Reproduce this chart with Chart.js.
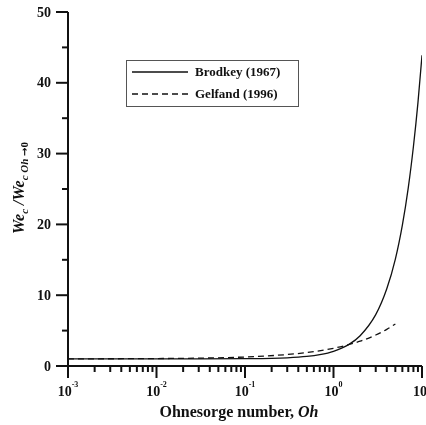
<!DOCTYPE html>
<html><head><meta charset="utf-8">
<script src="https://cdn.jsdelivr.net/npm/chart.js@4/dist/chart.umd.min.js"></script>
<style>html,body{margin:0;padding:0;background:#fff}#wrap{width:426px;height:425px}</style>
</head><body><div id="wrap"><canvas id="c" width="426" height="425"></canvas></div>
<script>
const brodkeyOh = [0.001, 0.01, 0.03, 0.1, 0.2, 0.3, 0.5, 0.7, 1, 1.5, 2, 3, 4, 5, 6, 7, 8, 9, 10];
const brodkeyWe = [1.0, 1.0, 1.0, 1.03, 1.08, 1.16, 1.36, 1.61, 2.08, 3.06, 4.27, 7.25, 10.9, 15.1, 19.9, 25.2, 31.0, 37.2, 43.9];
const gelfandOh = [0.001, 0.01, 0.03, 0.1, 0.3, 0.5, 1, 2, 3, 4, 5];
const gelfandWe = [1.01, 1.05, 1.11, 1.27, 1.62, 1.90, 2.5, 3.5, 4.38, 5.18, 5.93];
const seriesNames = ['Brodkey (1967)', 'Gelfand (1996)'];
const yTickValues = [0, 10, 20, 30, 40, 50];
const xTickExponents = [-3, -2, -1, 0, 1];

const SERIF = '"Liberation Serif", "Times New Roman", serif';

const drawPlugin = {
  id: 'custom',
  afterDraw(chart) {
    const ctx = chart.ctx;
    const xs = chart.scales.x, ys = chart.scales.y;
    const ca = chart.chartArea;
    ctx.save();
    ctx.strokeStyle = '#111';
    ctx.fillStyle = '#111';
    ctx.lineWidth = 2;
    // axes lines
    ctx.beginPath();
    ctx.moveTo(ca.left, ys.getPixelForValue(50));
    ctx.lineTo(ca.left, ys.getPixelForValue(0));
    ctx.lineTo(xs.getPixelForValue(10), ys.getPixelForValue(0));
    ctx.stroke();
    // y ticks
    const y0 = ys.getPixelForValue(0);
    for (let v = 0; v <= 50; v += 5) {
      const py = ys.getPixelForValue(v);
      const len = (v % 10 === 0) ? 12 : 6;
      ctx.beginPath(); ctx.moveTo(ca.left - len, py); ctx.lineTo(ca.left, py); ctx.stroke();
    }
    // x ticks
    for (let e = -3; e <= 1; e++) {
      for (let m = 1; m <= 9; m++) {
        const v = m * Math.pow(10, e);
        if (v > 10.0001) break;
        const px = xs.getPixelForValue(v);
        const len = (m === 1) ? 12 : 6;
        ctx.beginPath(); ctx.moveTo(px, y0); ctx.lineTo(px, y0 + len); ctx.stroke();
      }
    }
    // y tick labels
    ctx.font = 'bold 14px ' + SERIF;
    ctx.textAlign = 'right'; ctx.textBaseline = 'middle';
    yTickValues.forEach(v => ctx.fillText(String(v), ca.left - 17, ys.getPixelForValue(v) + 1));
    // x tick labels
    xTickExponents.forEach(e => {
      const px = xs.getPixelForValue(Math.pow(10, e));
      ctx.font = 'bold 14px ' + SERIF;
      const w1 = ctx.measureText('10').width;
      ctx.font = 'bold 8px ' + SERIF;
      const sup = String(e);
      const w2 = ctx.measureText(sup).width;
      const start = px - (w1 + w2) / 2;
      ctx.textAlign = 'left'; ctx.textBaseline = 'alphabetic';
      ctx.font = 'bold 14px ' + SERIF;
      ctx.fillText('10', start, y0 + 30);
      ctx.font = 'bold 8px ' + SERIF;
      ctx.fillText(sup, start + w1, y0 + 21);
    });
    // x title
    {
      const t1 = 'Ohnesorge number, ', t2 = 'Oh';
      ctx.font = 'bold 16px ' + SERIF;
      const w1 = ctx.measureText(t1).width;
      ctx.font = 'bold italic 16px ' + SERIF;
      const w2 = ctx.measureText(t2).width;
      const cx = 239;
      const sx = cx - (w1 + w2) / 2;
      ctx.textAlign = 'left'; ctx.textBaseline = 'alphabetic';
      ctx.font = 'bold 16px ' + SERIF;
      ctx.fillText(t1, sx, 417);
      ctx.font = 'bold italic 16px ' + SERIF;
      ctx.fillText(t2, sx + w1, 417);
    }
    // y title (rotated)
    {
      const ARROWF = '"DejaVu Sans", sans-serif';
      const parts = [
        {t: 'We', f: 'bold italic 16px ' + SERIF, dy: 0},
        {t: 'c', f: 'bold italic 11px ' + SERIF, dy: 4},
        {t: ' /We', f: 'bold italic 16px ' + SERIF, dy: 0},
        {t: 'c Oh ', f: 'bold italic 11px ' + SERIF, dy: 4},
        {t: '\u2192', f: 'bold 10px ' + ARROWF, dy: 4},
        {t: '0', f: 'bold 11px ' + SERIF, dy: 4}
      ];
      let total = 0;
      parts.forEach(p => { ctx.font = p.f; p.w = ctx.measureText(p.t).width; total += p.w; });
      ctx.translate(24, 188);
      ctx.rotate(-Math.PI / 2);
      let x = -total / 2;
      ctx.textAlign = 'left'; ctx.textBaseline = 'alphabetic';
      parts.forEach(p => { ctx.font = p.f; ctx.fillText(p.t, x, p.dy); x += p.w; });
      ctx.setTransform(1, 0, 0, 1, 0, 0);
    }
    // legend
    {
      const bx = 126, by = 60, bw = 172, bh = 46;
      ctx.lineWidth = 1; ctx.strokeStyle = '#555';
      ctx.strokeRect(bx + 0.5, by + 0.5, bw, bh);
      const ds = chart.data.datasets;
      [72, 94].forEach((ly, i) => {
        ctx.strokeStyle = ds[i].borderColor;
        ctx.lineWidth = 1.3;
        ctx.setLineDash(ds[i].borderDash || []);
        ctx.beginPath(); ctx.moveTo(132, ly); ctx.lineTo(188, ly); ctx.stroke();
        ctx.setLineDash([]);
        ctx.font = 'bold 13px ' + SERIF;
        ctx.textAlign = 'left'; ctx.textBaseline = 'middle';
        ctx.fillStyle = '#111';
        ctx.fillText(ds[i].label, 195, ly + 1);
      });
    }
    ctx.restore();
  }
};

new Chart(document.getElementById('c'), {
  type: 'line',
  data: {
    datasets: [
      {label: seriesNames[0], data: brodkeyOh.map((x, i) => ({x, y: brodkeyWe[i]})),
       borderColor: '#111', borderWidth: 1.3, pointRadius: 0, cubicInterpolationMode: 'monotone', fill: false},
      {label: seriesNames[1], data: gelfandOh.map((x, i) => ({x, y: gelfandWe[i]})),
       borderColor: '#111', borderWidth: 1.3, borderDash: [6, 4], pointRadius: 0, cubicInterpolationMode: 'monotone', fill: false}
    ]
  },
  options: {
    responsive: false, animation: false,
    layout: {padding: {top: 12, right: 4, left: 0, bottom: 0}},
    plugins: {legend: {display: false}, tooltip: {enabled: false}},
    scales: {
      x: {type: 'logarithmic', min: 0.001, max: 10,
          ticks: {display: false}, grid: {display: false}, border: {display: false},
          afterFit(s) { s.height = 59; }},
      y: {type: 'linear', min: 0, max: 50,
          ticks: {display: false}, grid: {display: false}, border: {display: false},
          afterFit(s) { s.width = 68; }}
    }
  },
  plugins: [drawPlugin]
});
</script></body></html>
